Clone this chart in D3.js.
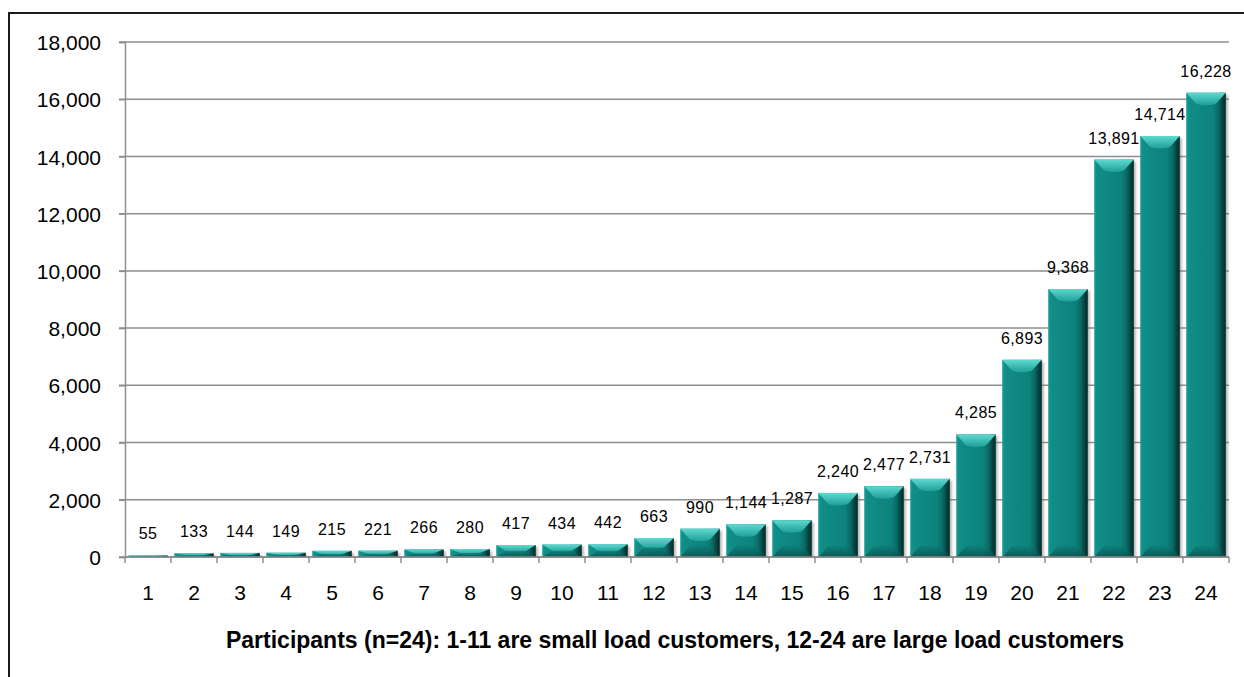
<!DOCTYPE html>
<html>
<head>
<meta charset="utf-8">
<script src="https://d3js.org/d3.v7.min.js"></script>
<style>
  html, body { margin: 0; padding: 0; background: #fff; }
  svg { display: block; font-family: "Liberation Sans", Arial, sans-serif; }
</style>
</head>
<body>
<svg id="chart" width="1244" height="677"></svg>
<script>
// Participants and their values
const participants = ["1","2","3","4","5","6","7","8","9","10","11","12","13","14","15","16","17","18","19","20","21","22","23","24"];
const values = [55,133,144,149,215,221,266,280,417,434,442,663,990,1144,1287,2240,2477,2731,4285,6893,9368,13891,14714,16228];
const yTicks = [0,2000,4000,6000,8000,10000,12000,14000,16000,18000];
const xTitle = "Participants (n=24): 1-11 are small load customers, 12-24 are large load customers";

const svg = d3.select("#chart");
const W = 1244, H = 677;
const plot = { left: 125, right: 1229, top: 42, bottom: 557 };

const x = d3.scaleBand().domain(participants).range([plot.left, plot.right]).paddingInner(0.14).paddingOuter(0.07);
const y = d3.scaleLinear().domain([0, 18000]).range([plot.bottom, plot.top]);

// outer frame
svg.append("path")
  .attr("d", `M9,${H + 2} L9,13 L${W + 2},13`)
  .attr("fill", "none").attr("stroke", "#1a1a1a").attr("stroke-width", 2);

// gradients
const defs = svg.append("defs");
const body = defs.append("linearGradient").attr("id", "barBody").attr("x1", "0").attr("x2", "1").attr("y1", "0").attr("y2", "0");
[["0%", "#1c9f98"], ["7%", "#118d87"], ["68%", "#0d827c"], ["82%", "#0a6965"], ["92%", "#054340"], ["100%", "#022a28"]]
  .forEach(([o, c]) => body.append("stop").attr("offset", o).attr("stop-color", c));
const topG = defs.append("linearGradient").attr("id", "barTop").attr("x1", "0").attr("x2", "0").attr("y1", "0").attr("y2", "1");
[["0%", "#5fd9d0"], ["100%", "#1e9f97"]].forEach(([o, c]) => topG.append("stop").attr("offset", o).attr("stop-color", c));
const botG = defs.append("linearGradient").attr("id", "barBot").attr("x1", "0").attr("x2", "0").attr("y1", "0").attr("y2", "1");
[["0%", "#0e7c77"], ["100%", "#074f4b"]].forEach(([o, c]) => botG.append("stop").attr("offset", o).attr("stop-color", c));
defs.append("filter").attr("id", "soft").append("feGaussianBlur").attr("stdDeviation", 1.2);

// gridlines
svg.append("g").selectAll("line").data(yTicks).join("line")
  .attr("x1", plot.left - 6).attr("x2", plot.right)
  .attr("y1", d => y(d)).attr("y2", d => y(d))
  .attr("stroke", "#8e8e8e").attr("stroke-width", 1.5);

// y axis
const yAxis = svg.append("g").attr("transform", `translate(${plot.left},0)`)
  .call(d3.axisLeft(y).tickValues(yTicks).tickFormat(d3.format(",")).tickSize(6).tickPadding(18));
yAxis.select(".domain").attr("stroke", "#8e8e8e").attr("stroke-width", 1.5);
yAxis.selectAll(".tick line").attr("stroke", "#8e8e8e").attr("stroke-width", 1.5);
yAxis.selectAll("text").attr("font-size", 21).attr("fill", "#000")
  .attr("font-family", "Liberation Sans, Arial, sans-serif").attr("dy", "0.36em");

// x axis with tick marks at category boundaries
const xAxisG = svg.append("g");
xAxisG.append("line").attr("x1", plot.left).attr("x2", plot.right)
  .attr("y1", plot.bottom).attr("y2", plot.bottom).attr("stroke", "#8e8e8e").attr("stroke-width", 1.5);
const step = x.step();
const bounds = participants.map(p => x(p) - x.paddingOuter() * step + step).slice(0, -1);
xAxisG.selectAll("line.tk").data([plot.left, ...bounds, plot.right]).join("line").attr("class", "tk")
  .attr("x1", d => d).attr("x2", d => d).attr("y1", plot.bottom).attr("y2", plot.bottom + 6)
  .attr("stroke", "#8e8e8e").attr("stroke-width", 1.5);
xAxisG.selectAll("text").data(participants).join("text")
  .attr("x", d => x(d) + x.bandwidth() / 2).attr("y", 600)
  .attr("text-anchor", "middle").attr("font-size", 21).attr("fill", "#000").text(d => d);

// bars (very short bars sit under the axis line and are drawn flat)
const rows = values.map((v, i) => ({ p: participants[i], v }));
const bars = svg.append("g").selectAll("g").data(rows).join("g");
bars.each(function (d) {
  const g = d3.select(this);
  const x0 = x(d.p), bw = x.bandwidth();
  const yt = y(d.v), h = plot.bottom - yt;
  if (h > 2) {
    g.append("rect").attr("x", x0 + 2).attr("y", yt + 2).attr("width", bw).attr("height", Math.max(0, h - 2))
      .attr("fill", "#6b6b6b").attr("opacity", 0.5).attr("filter", "url(#soft)");
  }
  g.append("rect").attr("x", x0).attr("y", yt).attr("width", bw).attr("height", h).attr("fill", "url(#barBody)");
  const bh = Math.min(11, h / 2), inset = Math.min(10, bw / 4);
  if (h > 2) {
    g.append("path")
      .attr("d", `M${x0},${yt} L${x0 + bw},${yt} L${x0 + bw - inset},${yt + bh} Q${x0 + bw / 2},${yt + bh + 3} ${x0 + inset},${yt + bh} Z`)
      .attr("fill", "url(#barTop)");
    g.append("path")
      .attr("d", `M${x0},${plot.bottom} L${x0 + bw},${plot.bottom} L${x0 + bw - inset},${plot.bottom - bh} L${x0 + inset},${plot.bottom - bh} Z`)
      .attr("fill", "url(#barBot)").attr("opacity", 0.75);
  }
});

// redraw the baseline over the bars
svg.append("line").attr("x1", plot.left).attr("x2", plot.right)
  .attr("y1", plot.bottom).attr("y2", plot.bottom).attr("stroke", "#8e8e8e").attr("stroke-width", 1.5);

// value labels
svg.append("g").selectAll("text").data(rows).join("text")
  .attr("x", d => x(d.p) + x.bandwidth() / 2).attr("y", d => y(d.v) - 16)
  .attr("text-anchor", "middle").attr("font-size", 16).attr("letter-spacing", 0.4).attr("fill", "#000")
  .text(d => d3.format(",")(d.v));

// x axis title
svg.append("text").attr("x", 675).attr("y", 648).attr("text-anchor", "middle")
  .attr("font-size", 23).attr("font-weight", "bold").attr("fill", "#000").text(xTitle);
</script>
</body>
</html>
